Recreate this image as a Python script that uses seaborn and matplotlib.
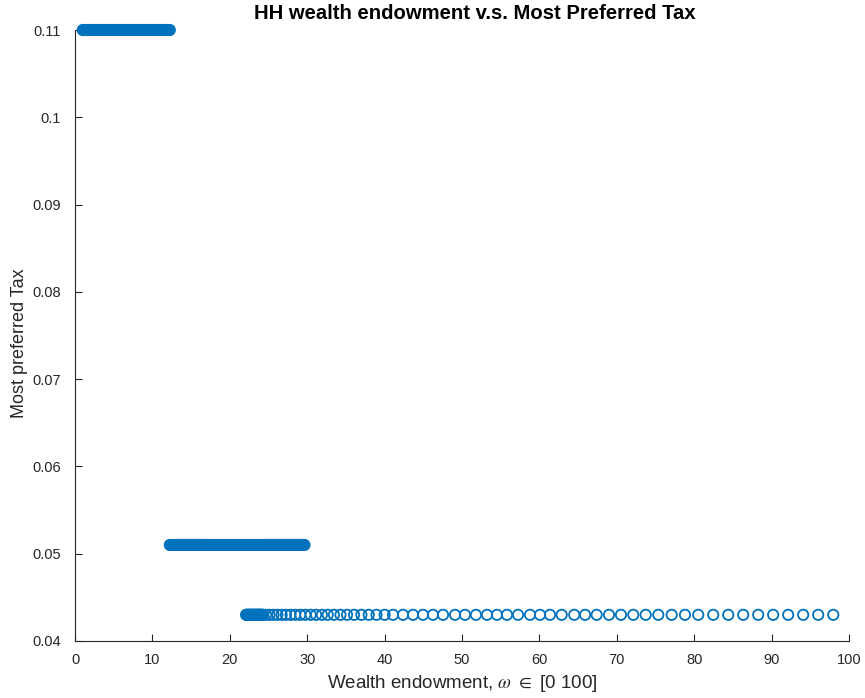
import matplotlib
matplotlib.use("Agg")
import matplotlib.pyplot as plt
import seaborn as sns
import pandas as pd

# ---- data ----
tax_levels = [0.11, 0.051, 0.043]

top_wealth = [
    1.0, 1.125, 1.25, 1.375, 1.5, 1.625, 1.75, 1.875,
    2.0, 2.125, 2.25, 2.375, 2.5, 2.625, 2.75, 2.875,
    3.0, 3.125, 3.25, 3.375, 3.5, 3.625, 3.75, 3.875,
    4.0, 4.125, 4.25, 4.375, 4.5, 4.625, 4.75, 4.875,
    5.0, 5.125, 5.25, 5.375, 5.5, 5.625, 5.75, 5.875,
    6.0, 6.125, 6.25, 6.375, 6.5, 6.625, 6.75, 6.875,
    7.0, 7.125, 7.25, 7.375, 7.5, 7.625, 7.75, 7.875,
    8.0, 8.125, 8.25, 8.375, 8.5, 8.625, 8.75, 8.875,
    9.0, 9.125, 9.25, 9.375, 9.5, 9.625, 9.75, 9.875,
    10.0, 10.125, 10.25, 10.375, 10.5, 10.625, 10.75, 10.875,
    11.0, 11.125, 11.25, 11.375, 11.5, 11.625, 11.75, 11.875,
    12.0, 12.125, 12.25,
]

mid_wealth = [
    12.25, 12.375, 12.5, 12.625, 12.75, 12.875,
    13.0, 13.125, 13.25, 13.375, 13.5, 13.625, 13.75, 13.875,
    14.0, 14.125, 14.25, 14.375, 14.5, 14.625, 14.75, 14.875,
    15.0, 15.125, 15.25, 15.375, 15.5, 15.625, 15.75, 15.875,
    16.0, 16.125, 16.25, 16.375, 16.5, 16.625, 16.75, 16.875,
    17.0, 17.15, 17.3, 17.45, 17.6, 17.75, 17.9,
    18.05, 18.2, 18.35, 18.5, 18.65, 18.8, 18.95,
    19.1, 19.25, 19.4, 19.55, 19.7, 19.85,
    20.0, 20.15, 20.3, 20.45, 20.6, 20.75, 20.9,
    21.05, 21.2, 21.35, 21.5, 21.65, 21.8, 21.95,
    22.1, 22.25, 22.4, 22.55, 22.7, 22.85,
    23.0, 23.15, 23.3, 23.45, 23.6, 23.75, 23.9,
    24.05, 24.2, 24.35, 24.5, 24.65, 24.8, 24.95,
    25.0, 25.125, 25.25, 25.375, 25.5, 25.625, 25.75, 25.875,
    26.0, 26.125, 26.25, 26.375, 26.5, 26.625, 26.75, 26.875,
    27.0, 27.125, 27.25, 27.375, 27.5, 27.625, 27.75, 27.875,
    28.0, 28.125, 28.25, 28.375, 28.5, 28.625, 28.75, 28.875,
    29.0, 29.125, 29.25, 29.375, 29.5, 29.65,
]

low_wealth = [
    22.1, 22.2, 22.3, 22.4, 22.5, 22.6, 22.7, 22.8, 22.9, 23.0,
    23.1, 23.2, 23.3, 23.4, 23.5, 23.6, 23.7, 23.8, 23.9, 24.0,
    24.1, 24.2, 24.3, 24.7, 25.15, 25.65, 26.15, 26.7, 27.25, 27.85,
    28.45, 29.1, 29.75, 30.45, 31.15, 31.9, 32.65, 33.45, 34.3, 35.15,
    36.05, 37.0, 37.95, 38.95, 40.0, 41.09, 42.38, 43.67, 44.96, 46.25,
    47.55, 49.1, 50.39, 51.8, 53.23, 54.52, 55.81, 57.24, 58.79, 60.08,
    61.37, 62.88, 64.5, 65.9, 67.4, 68.99, 70.54, 72.13, 73.73, 75.36,
    77.09, 78.81, 80.52, 82.46, 84.4, 86.33, 88.27, 90.2, 92.14, 94.08,
    96.02, 97.97,
]

x_ticks = [0, 10, 20, 30, 40, 50, 60, 70, 80, 90, 100]
y_ticks = [0.04, 0.05, 0.06, 0.07, 0.08, 0.09, 0.10, 0.11]
y_tick_labels = ["0.04", "0.05", "0.06", "0.07", "0.08", "0.09", "0.1", "0.11"]

title = "HH wealth endowment v.s. Most Preferred Tax"
x_label = r"Wealth endowment, $\omega$ $\in$ [0 100]"
y_label = "Most preferred Tax"

# ---- build table ----
groups = [top_wealth, mid_wealth, low_wealth]
df = pd.concat(
    [pd.DataFrame({"wealth": w, "tax": t}) for w, t in zip(groups, tax_levels)],
    ignore_index=True,
)

sns.set_style("white")
plt.rcParams["font.family"] = ["Liberation Sans", "DejaVu Sans"]
plt.rcParams["mathtext.fontset"] = "stix"

ink = "#262626"
blue = "#0072BD"

fig = plt.figure(figsize=(8.65, 6.98), dpi=100)
ax = fig.add_axes([75 / 865, 57 / 698, (849 - 75) / 865, (641 - 30) / 698])

sns.scatterplot(data=df, x="wealth", y="tax", ax=ax, marker="o", s=55,
                facecolor="none", edgecolor=blue, linewidth=1.3,
                clip_on=False, zorder=3, legend=False)

ax.set_xlim(0, 100)
ax.set_ylim(0.04, 0.11)
ax.set_xticks(x_ticks)
ax.set_yticks(y_ticks)
ax.set_yticklabels(y_tick_labels)

for side in ["top", "right"]:
    ax.spines[side].set_visible(False)
for side in ["left", "bottom"]:
    ax.spines[side].set_color(ink)
    ax.spines[side].set_linewidth(0.8)

ax.tick_params(axis="both", which="major", bottom=True, left=True,
               top=False, right=False, direction="in", length=5, width=0.8,
               colors=ink, labelsize=10.5)
ax.tick_params(axis="y", pad=10)
ax.tick_params(axis="x", pad=9)

ax.set_xlabel(x_label, fontsize=13.5, color=ink, labelpad=4)
ax.set_ylabel(y_label, fontsize=13, color=ink, labelpad=3)
ax.yaxis.label.set_y(0.488)
ax.set_title(title, fontsize=14.6, fontweight="bold", color="black", pad=8,
             x=0.517)

fig.savefig("out.png", dpi=100)
